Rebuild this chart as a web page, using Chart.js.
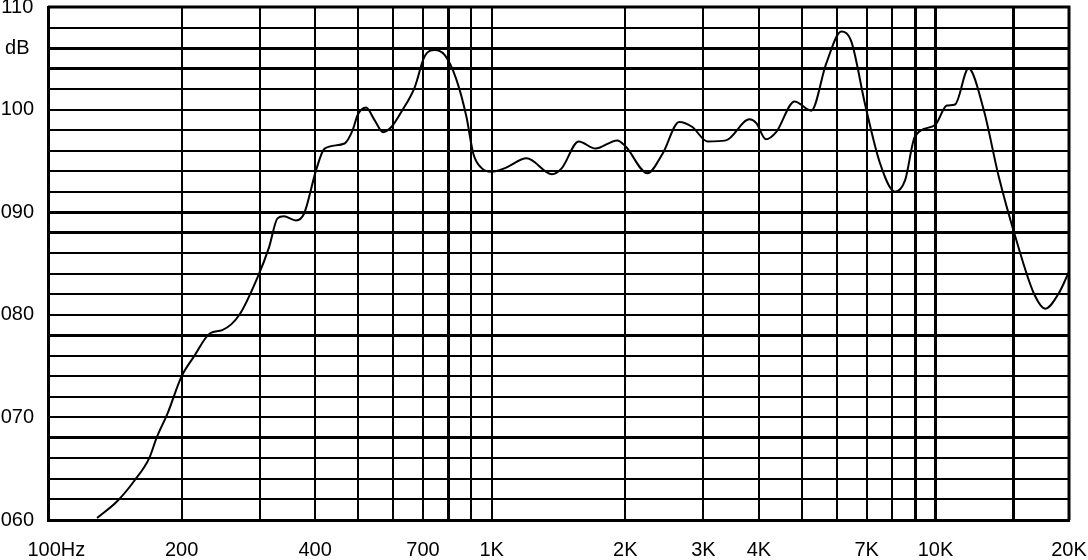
<!DOCTYPE html>
<html>
<head>
<meta charset="UTF-8">
<title>Frequency response</title>
<script src="https://cdn.jsdelivr.net/npm/chart.js"></script>
<style>
  html, body { margin: 0; padding: 0; background: #fff; }
  #wrap { width: 1088px; height: 560px; position: relative; }
</style>
</head>
<body>
<div id="wrap"><canvas id="fr"></canvas></div>
<script>
// response curve (Hz, dB)
const freqs = [129, 143, 157, 169, 176, 186, 200, 213, 232, 247, 270, 297, 315, 329, 340, 362, 378,
  402, 420, 466, 486, 499, 521, 544, 569, 594, 626, 671, 706, 744, 784, 833, 877, 909, 949,
  1000, 1072, 1199, 1367, 1439, 1570, 1713, 1918, 2004, 2244, 2427, 2645, 2833, 3063, 3373,
  3807, 3943, 4150, 4375, 4814, 5250, 5675, 6138, 6467, 6934, 7497, 8107, 8541, 8995, 9985,
  10607, 11070, 11875, 12842, 13884, 15140, 16660, 17700, 18970, 20000];
const levels = [60.2, 61.8, 63.9, 66.0, 68.1, 70.4, 74.0, 75.9, 78.2, 78.5, 80.0, 83.7, 86.6, 89.4, 89.6, 89.2, 89.9,
  94.1, 96.2, 96.7, 98.0, 99.5, 100.2, 99.0, 97.8, 98.3, 99.8, 102.2, 105.2, 105.8, 105.3, 102.9, 99.3, 95.7, 94.3,
  93.95, 94.3, 95.25, 93.7, 94.3, 96.9, 96.2, 97.0, 96.4, 93.8, 95.7, 98.8, 98.3, 96.9, 97.0,
  99.05, 98.7, 97.1, 97.8, 100.8, 99.9, 104.5, 107.6, 106.6, 100.6, 94.8, 92.0, 93.1, 97.4, 98.5,
  100.4, 100.5, 104.0, 100.0, 93.5, 87.6, 82.1, 80.6, 82.1, 84.2];

// grid / tick labels
const xTickFreqs = [100, 200, 300, 400, 500, 600, 700, 800, 900, 1000, 2000, 3000, 4000, 5000,
  6000, 7000, 8000, 9000, 10000, 15000, 20000];
const xTickLabels = ['   100Hz', '200', '', '400', '', '', '700', '', '', '1K', '2K', '3K', '4K', '',
  '', '7K', '', '', '10K', '', '20K'];
const yLabelValues = [60, 70, 80, 90, 100, 106, 110];
const yLabelTexts = ['060', '070', '080', '090', '100', 'dB', '110'];

// heavier grid lines as printed
const heavyY = [68, 78, 88, 90, 104, 106];
const heavyX = [800, 9000, 10000, 15000];

const font = { family: "'Liberation Sans', Arial, sans-serif", size: 20 };

const points = freqs.map((f, i) => ({ x: f, y: levels[i] }));

const ctx = document.getElementById('fr').getContext('2d');
new Chart(ctx, {
  type: 'line',
  data: {
    datasets: [{
      data: points,
      borderColor: '#000',
      borderWidth: 2,
      pointRadius: 0,
      fill: false,
      cubicInterpolationMode: 'monotone'
    }]
  },
  options: {
    responsive: true,
    maintainAspectRatio: false,
    animation: false,
    layout: { padding: { left: 0, top: 7, right: 19, bottom: 0 } },
    plugins: { legend: { display: false }, tooltip: { enabled: false } },
    scales: {
      x: {
        type: 'logarithmic',
        min: 100,
        max: 20000,
        afterBuildTicks: (scale) => { scale.ticks = xTickFreqs.map(v => ({ value: v })); },
        afterFit: (scale) => { scale.height = 40; scale.paddingLeft = 0; scale.paddingRight = 0; },
        grid: {
          color: '#000',
          lineWidth: (c) => heavyX.includes(c.tick && c.tick.value) ? 3 : 2,
          drawTicks: false
        },
        border: { display: true, color: '#000', width: 3 },
        ticks: {
          autoSkip: false,
          maxRotation: 0,
          padding: 18,
          color: '#000',
          font: font,
          callback: (v, i) => xTickLabels[i]
        }
      },
      y: {
        min: 60,
        max: 110,
        afterFit: (scale) => { scale.width = 48; scale.paddingTop = 0; scale.paddingBottom = 0; },
        grid: {
          color: '#000',
          lineWidth: (c) => heavyY.includes(c.tick && c.tick.value) ? 3 : 2,
          drawTicks: false
        },
        border: { display: true, color: '#000', width: 3 },
        ticks: {
          stepSize: 2,
          autoSkip: false,
          padding: 14,
          crossAlign: 'center',
          color: '#000',
          font: font,
          callback: (v) => {
            const k = yLabelValues.indexOf(v);
            return k >= 0 ? yLabelTexts[k] : '';
          }
        }
      }
    }
  },
  plugins: [{
    id: 'rightTopBorder',
    afterDraw(chart) {
      const a = chart.chartArea, c = chart.ctx;
      c.save();
      c.strokeStyle = '#000';
      c.lineWidth = 3;
      c.beginPath();
      c.moveTo(a.left, a.top); c.lineTo(a.right, a.top); c.lineTo(a.right, a.bottom);
      c.stroke();
      c.restore();
    }
  }]
});
</script>
</body>
</html>
